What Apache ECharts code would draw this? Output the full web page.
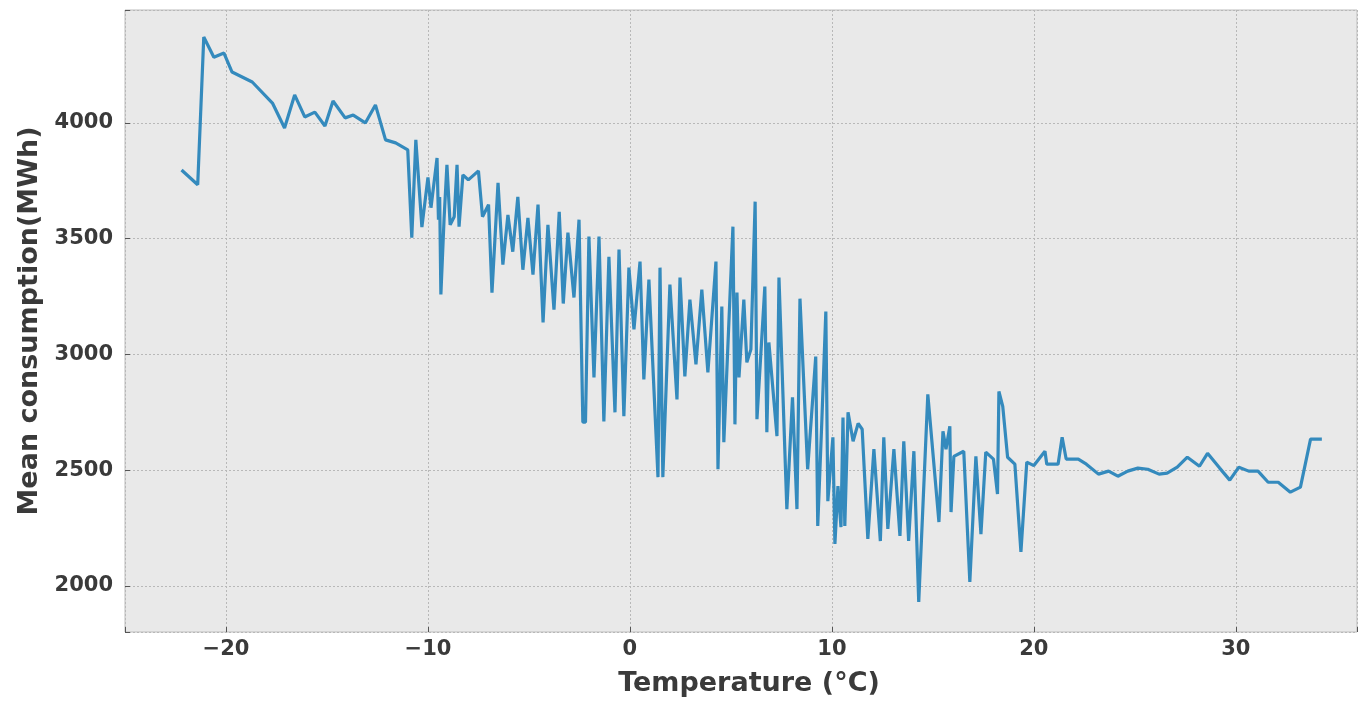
<!DOCTYPE html>
<html>
<head>
<meta charset="utf-8">
<script src="https://cdn.jsdelivr.net/npm/echarts@6/dist/echarts.min.js"></script>
<style>
  html, body { margin: 0; padding: 0; background: #fff; }
  #main { width: 1360px; height: 702px; }
</style>
</head>
<body>
<div id="main"></div>
<script>
// temperature (°C) and mean consumption (MWh)
var temps = [
  -22.2, -21.4, -21.1, -20.6, -20.1, -19.7, -18.7, -17.7, -17.1, -16.6,
  -16.1, -15.6, -15.1, -14.7, -14.1, -13.7, -13.1, -12.6, -12.1, -11.6,
  -11.0, -10.8, -10.6, -10.3, -10.0, -9.85, -9.55, -9.48, -9.42, -9.36,
  -9.2, -9.06, -8.9, -8.7, -8.56, -8.46, -8.27, -8.0, -7.5, -7.3,
  -7.0, -6.83, -6.53, -6.29, -6.04, -5.8, -5.55, -5.3, -5.05, -4.8,
  -4.55, -4.3, -4.06, -3.76, -3.5, -3.3, -3.07, -2.77, -2.52, -2.33,
  -2.2, -2.03, -1.78, -1.53, -1.29, -1.04, -0.74, -0.54, -0.3, -0.05,
  0.2, 0.5, 0.69, 0.94, 1.39, 1.49, 1.63, 1.98, 2.33, 2.48,
  2.72, 2.97, 3.27, 3.56, 3.86, 4.26, 4.36, 4.55, 4.65, 5.1,
  5.2, 5.3, 5.4, 5.64, 5.79, 5.99, 6.2, 6.29, 6.68, 6.78,
  6.88, 7.28, 7.38, 7.77, 8.05, 8.27, 8.42, 8.8, 9.2, 9.3,
  9.5, 9.7, 9.8, 10.05, 10.15, 10.3, 10.45, 10.55, 10.64, 10.8,
  11.05, 11.3, 11.5, 11.78, 12.08, 12.4, 12.57, 12.77, 13.07, 13.37,
  13.56, 13.8, 14.06, 14.3, 14.75, 15.3, 15.5, 15.65, 15.84, 15.9,
  16.04, 16.53, 16.83, 17.13, 17.38, 17.62, 18.0, 18.2, 18.27, 18.46,
  18.7, 19.06, 19.36, 19.65, 20.0, 20.55, 20.64, 21.2, 21.4, 21.6,
  22.2, 22.6, 23.2, 23.7, 24.16, 24.65, 25.15, 25.64, 26.2, 26.6,
  27.1, 27.6, 28.2, 28.6, 29.2, 29.7, 30.15, 30.64, 31.1, 31.6,
  32.1, 32.7, 33.2, 33.7, 34.26
];
var consumption = [
  3797, 3733, 4371, 4284, 4302, 4220, 4177, 4086, 3978, 4121,
  4026, 4047, 3987, 4095, 4022, 4034, 4000, 4078, 3927, 3914,
  3884, 3504, 3927, 3550, 3765, 3634, 3849, 3582, 3680, 3259,
  3590, 3819, 3560, 3595, 3819, 3552, 3776, 3754, 3793, 3595,
  3647, 3267, 3741, 3388, 3603, 3444, 3681, 3366, 3590, 3345,
  3647, 3138, 3560, 3194, 3616, 3220, 3526, 3246, 3582, 2707,
  2707, 3509, 2901, 3509, 2711, 3422, 2750, 3453, 2733, 3375,
  3108, 3401, 2892, 3323, 2470, 3375, 2470, 3302, 2806, 3332,
  2905, 3237, 2957, 3280, 2922, 3401, 2504, 3207, 2621, 3552,
  2698, 3267, 2901, 3237, 2966, 3022, 3660, 2720, 3293, 2664,
  3052, 2647, 3332, 2332, 2815, 2332, 3241, 2504, 2991, 2259,
  2707, 3185, 2366, 2642, 2181, 2431, 2254, 2728, 2259, 2750,
  2625, 2702, 2677, 2203, 2591, 2194, 2642, 2246, 2591, 2216,
  2625, 2194, 2582, 1931, 2828, 2276, 2668, 2591, 2690, 2319,
  2560, 2582, 2017, 2560, 2224, 2578, 2548, 2397, 2840, 2776,
  2556, 2526, 2147, 2535, 2520, 2582, 2526, 2526, 2642, 2548,
  2548, 2526, 2483, 2496, 2474, 2496, 2509, 2504, 2483, 2487,
  2513, 2556, 2517, 2573, 2509, 2457, 2513, 2496, 2496, 2448,
  2448, 2405, 2427, 2634, 2634
];
var xTicks = [-20, -10, 0, 10, 20, 30];
var yTicks = [2000, 2500, 3000, 3500, 4000];

var points = [];
for (var i = 0; i < temps.length; i++) {
    points.push([temps[i], consumption[i]]);
}

var textColor = '#3a3a3a';
var fontFamily = 'DejaVu Sans';

var myChart = echarts.init(document.getElementById('main'));

var option = {
    backgroundColor: '#ffffff',
    animation: false,
    grid: {
        left: 125,
        right: 2,
        top: 10,
        bottom: 70,
        show: true,
        backgroundColor: '#e9e9e9',
        borderColor: '#bcbcbc',
        borderWidth: 1
    },
    xAxis: {
        type: 'value',
        min: -25,
        max: 36,
        splitNumber: 6,
        minInterval: 10,
        maxInterval: 10,
        name: 'Temperature (°C)',
        nameLocation: 'middle',
        nameGap: 38,
        nameTextStyle: {
            fontFamily: fontFamily, fontWeight: 'bold', fontSize: 27, color: textColor,
            padding: [0, 0, 0, 16]
        },
        axisLine: { show: false, onZero: false },
        axisTick: { show: true, inside: true, length: 5, lineStyle: { color: '#555' } },
        axisLabel: {
            margin: 7,
            fontFamily: fontFamily,
            fontWeight: 'bold',
            fontSize: 21,
            color: textColor,
            formatter: function (v) {
                if (xTicks.indexOf(v) < 0) return '';
                return String(v).replace('-', '\u2212');
            }
        },
        splitLine: { show: true, lineStyle: { color: '#b8b8b8', type: [2, 2], width: 1 } }
    },
    yAxis: {
        type: 'value',
        min: 1801,
        max: 4488,
        splitNumber: 5,
        minInterval: 500,
        maxInterval: 500,
        name: 'Mean consumption(MWh)',
        nameLocation: 'middle',
        nameGap: 78,
        nameTextStyle: { fontFamily: fontFamily, fontWeight: 'bold', fontSize: 27, color: textColor },
        axisLine: { show: false, onZero: false },
        axisTick: { show: true, inside: true, length: 5, lineStyle: { color: '#555' } },
        axisLabel: {
            margin: 12,
            fontFamily: fontFamily,
            fontWeight: 'bold',
            fontSize: 21,
            color: textColor,
            formatter: function (v) {
                return yTicks.indexOf(v) < 0 ? '' : String(v);
            }
        },
        splitLine: { show: true, lineStyle: { color: '#b8b8b8', type: [2, 2], width: 1 } }
    },
    series: [
        {
            type: 'line',
            data: points,
            showSymbol: false,
            symbol: 'none',
            lineStyle: { color: '#348ABD', width: 3.2 },
            itemStyle: { color: '#348ABD' }
        }
    ]
};
myChart.setOption(option);
</script>
</body>
</html>
